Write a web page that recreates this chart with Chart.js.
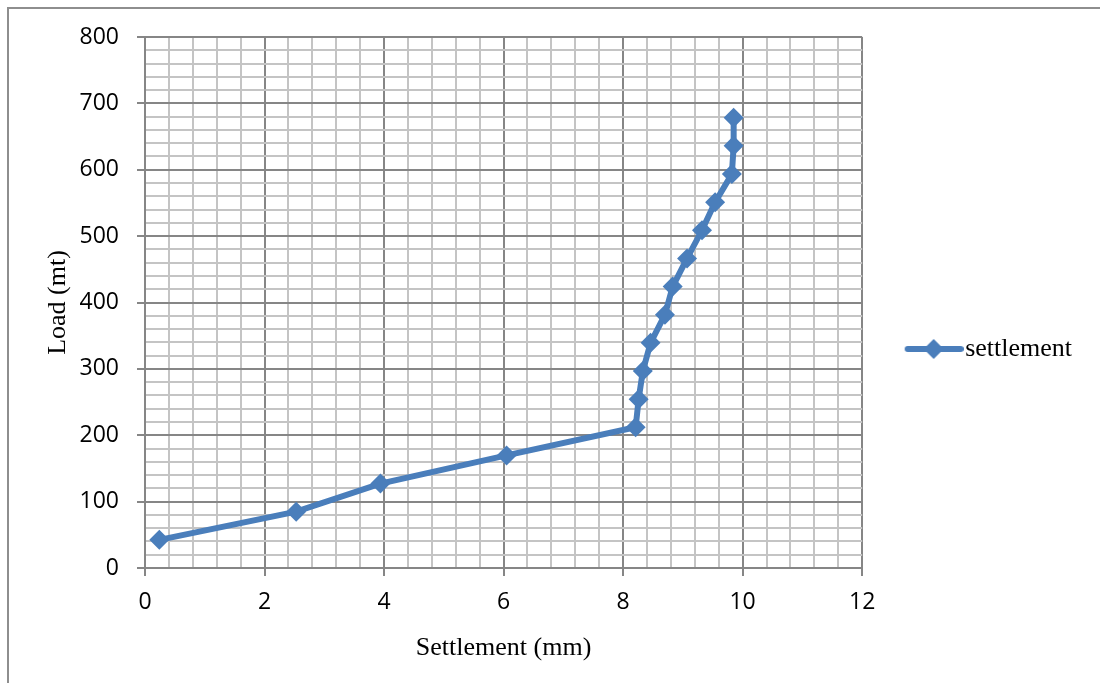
<!DOCTYPE html>
<html>
<head>
<meta charset="utf-8">
<script src="https://cdn.jsdelivr.net/npm/chart.js@4"></script>
<style>
  html, body { margin: 0; padding: 0; background: #fff; }
  #wrap { position: relative; width: 1100px; height: 683px; }
  #frame { position: absolute; left: 7px; top: 7px; right: 0; bottom: 0;
           border-left: 2px solid #8e8e8e; border-top: 2px solid #8e8e8e; pointer-events: none; }
</style>
</head>
<body>
<div id="wrap">
  <canvas id="chart" width="1100" height="683"></canvas>
  <div id="frame"></div>
</div>
<script>
// readings
const settlement = [0.24, 2.53, 3.94, 6.05, 8.21, 8.26, 8.33, 8.46, 8.70, 8.83, 9.07, 9.32, 9.54, 9.82, 9.85, 9.85];
const load = [42.4, 84.8, 127.2, 169.6, 212, 254.4, 296.8, 339.2, 381.6, 424, 466.4, 508.8, 551.2, 593.6, 636, 678.4];
const seriesName = 'settlement';
const xTitle = 'Settlement (mm)';
const yTitle = 'Load (mt)';

const blue = '#4a7ebb';
const majorGrid = '#868686';
const minorGrid = '#c4c4c4';

let points = settlement.map((s, i) => ({ x: s, y: load[i] }));

function isMajor(v, step) {
    return Math.abs(v / step - Math.round(v / step)) < 1e-6;
}

// legend marker: line with a diamond on it (drawn off-centre, the box is narrower)
function legendMarker() {
    let c = document.createElement('canvas');
    c.width = 80; c.height = 24;
    let g = c.getContext('2d');
    g.strokeStyle = blue; g.lineWidth = 6; g.lineCap = 'round';
    g.beginPath(); g.moveTo(24, 12); g.lineTo(77, 12); g.stroke();
    g.fillStyle = blue;
    g.beginPath(); g.moveTo(50, 2); g.lineTo(60, 12); g.lineTo(50, 22); g.lineTo(40, 12); g.closePath(); g.fill();
    return c;
}

const tickFont = { family: '"Open Sans", sans-serif', size: 23 };
const titleFont = { family: '"Liberation Serif", "Times New Roman", serif', size: 26 };

let ctx = document.getElementById('chart').getContext('2d');
new Chart(ctx, {
    type: 'line',
    data: {
        datasets: [{
            label: seriesName,
            data: points,
            borderColor: blue,
            backgroundColor: blue,
            borderWidth: 6,
            pointStyle: 'rectRot',
            pointRadius: 10,
            pointBorderWidth: 0,
            pointBackgroundColor: blue,
            tension: 0,
            fill: false
        }]
    },
    options: {
        responsive: false,
        animation: false,
        layout: { padding: { left: 0, top: 37, right: 18, bottom: 22 } },
        plugins: {
            tooltip: { enabled: false },
            legend: {
                position: 'right',
                labels: {
                    usePointStyle: true,
                    pointStyle: legendMarker(),
                    pointStyleWidth: 57,
                    padding: 33,
                    color: '#000',
                    font: titleFont
                }
            }
        },
        scales: {
            x: {
                type: 'linear',
                min: 0, max: 12,
                afterFit: s => { s.height = 93; },
                ticks: {
                    stepSize: 0.4,
                    autoSkip: false,
                    maxRotation: 0,
                    padding: 13,
                    color: '#000',
                    font: tickFont,
                    callback: v => isMajor(v, 2) ? String(Math.round(v)) : ''
                },
                grid: {
                    color: c => isMajor(c.tick.value, 2) ? majorGrid : minorGrid,
                    tickColor: c => isMajor(c.tick.value, 2) ? majorGrid : 'rgba(0,0,0,0)',
                    lineWidth: 2,
                    tickLength: 8
                },
                border: { color: majorGrid, width: 2 },
                title: {
                    display: true, text: xTitle, color: '#000',
                    font: { family: titleFont.family, size: 26, lineHeight: 1 },
                    padding: { top: 0, bottom: 0 }
                }
            },
            y: {
                type: 'linear',
                min: 0, max: 800,
                afterFit: s => { s.width = 145; },
                ticks: {
                    stepSize: 20,
                    autoSkip: false,
                    padding: 18,
                    color: '#000',
                    font: tickFont,
                    callback: v => isMajor(v, 100) ? String(Math.round(v)) : ''
                },
                grid: {
                    color: c => isMajor(c.tick.value, 100) ? majorGrid : minorGrid,
                    tickColor: c => isMajor(c.tick.value, 100) ? majorGrid : 'rgba(0,0,0,0)',
                    lineWidth: 2,
                    tickLength: 8
                },
                border: { color: majorGrid, width: 2 },
                title: { display: true, text: yTitle, color: '#000', font: titleFont, padding: { top: 43, bottom: 0 } }
            }
        }
    }
});
</script>
</body>
</html>
